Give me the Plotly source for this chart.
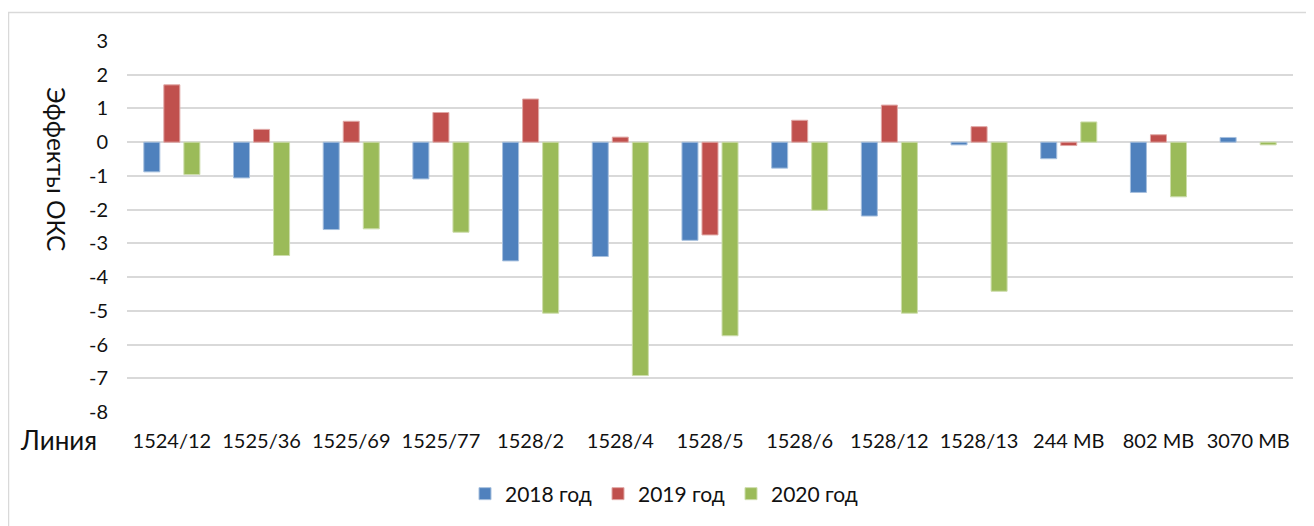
import plotly.graph_objects as go

lines = ["1524/12", "1525/36", "1525/69", "1525/77", "1528/2", "1528/4", "1528/5",
         "1528/6", "1528/12", "1528/13", "244 МВ", "802 МВ", "3070 МВ"]
y2018 = [-0.88, -1.06, -2.59, -1.09, -3.52, -3.39, -2.91, -0.77, -2.19, -0.08, -0.49, -1.49, 0.14]
y2019 = [1.70, 0.38, 0.62, 0.88, 1.28, 0.15, -2.75, 0.65, 1.10, 0.46, -0.10, 0.22, None]
y2020 = [-0.96, -3.36, -2.57, -2.67, -5.07, -6.92, -5.74, -2.02, -5.07, -4.42, 0.60, -1.62, -0.08]
series_names = ["2018 год", "2019 год", "2020 год"]
colors = ["#4F81BD", "#C0504D", "#9BBB59"]
edges = ["#A7C0DE", "#E0A8A6", "#CDDDAC"]
yticks = list(range(-8, 4))
ytext = [str(v) for v in yticks]  # plain hyphen minus, like the original

font = "Lato, 'Open Sans', sans-serif"

fig = go.Figure()
for name, vals, c, e in zip(series_names, [y2018, y2019, y2020], colors, edges):
    fig.add_trace(go.Bar(
        x=lines, y=vals, name=name,
        marker=dict(color=c, line=dict(color=e, width=1)),
    ))

# page has an 8px body margin; plot area on screen: x 127..1293, y 41..412
OFF = 8
W, H = 1306, 518
L, T = 127 - OFF, 41 - OFF
R, B = W - (1293 - OFF), H - (412 - OFF)
pw, ph = W - L - R, H - T - B


def px(x):
    return (x - OFF - L) / pw


def py(y):
    return (H - B - (y - OFF)) / ph


fig.update_layout(
    width=W, height=H,
    margin=dict(l=L, r=R, t=T, b=B),
    paper_bgcolor="white", plot_bgcolor="white",
    barmode="group", bargap=0.33, bargroupgap=0.2,
    font=dict(family=font, size=20, color="#111111"),
    showlegend=True,
    legend=dict(
        orientation="h", x=px(465), y=py(494), xanchor="left", yanchor="middle",
        font=dict(size=21), entrywidth=88, traceorder="normal",
    ),
    xaxis=dict(
        showgrid=False, zeroline=False, showline=False, ticks="",
        tickfont=dict(size=20), ticklabelstandoff=15,
    ),
    yaxis=dict(
        range=[-8, 3], tickvals=yticks, ticktext=ytext, showgrid=True,
        gridcolor="#D9D9D9", gridwidth=1.5, zeroline=True,
        zerolinecolor="#D9D9D9", zerolinewidth=1.5,
        showline=False, ticks="", tickfont=dict(size=20), ticklabelstandoff=18,
    ),
    shapes=[dict(
        type="rect", xref="paper", yref="paper",
        x0=px(8.5), x1=px(1340), y0=py(560), y1=py(12.5),
        line=dict(color="#D9D9D9", width=1.5), layer="below",
    )],
    annotations=[
        dict(text="Эффекты ОКС", xref="paper", yref="paper", x=px(57), y=py(169),
             textangle=90, showarrow=False, font=dict(size=24.5),
             xanchor="center", yanchor="middle"),
        dict(text="Линия", xref="paper", yref="paper", x=px(18), y=py(440),
             showarrow=False, font=dict(size=26), xanchor="left", yanchor="middle"),
    ],
)

fig.write_html("out.html")
